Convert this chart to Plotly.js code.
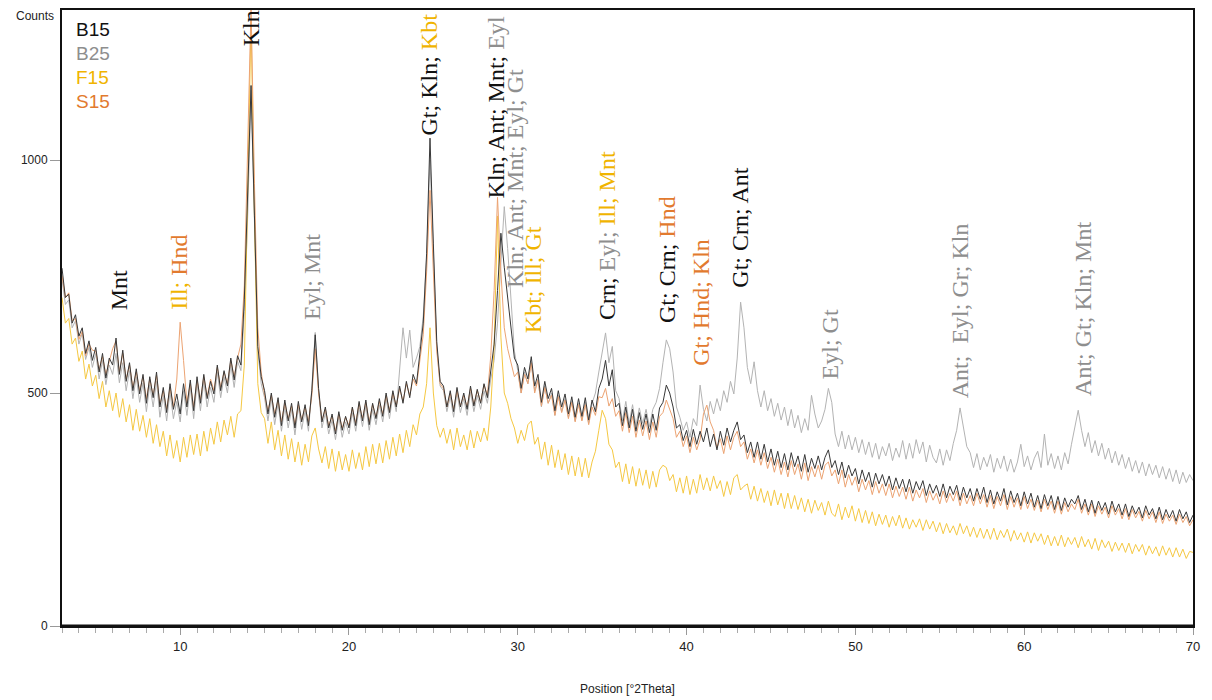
<!DOCTYPE html>
<html>
<head>
<meta charset="utf-8">
<script src="https://cdn.plot.ly/plotly-3.0.1.min.js"></script>
<style>html,body{margin:0;padding:0;background:#fff}#chart{width:1212px;height:700px}</style>
</head>
<body>
<div id="chart"></div>
<script>
// Sampling grid: 2Theta from 3 to 70 in 0.2 degree steps
const twoThetaStart = 3;
const twoThetaStep = 0.2;

// Counts per sample (five values per degree: d.0 d.2 d.4 d.6 d.8)
const B15 = [
768,705,712,650,668, 622,640,585,612,570, 598,545,585,532,575, 560,618,540,592,525,
565,505,552,498,540, 478,535,490,545,470, 512,458,520,465,498, 455,520,470,528,462,
535,478,540,488,525, 498,560,505,548,515, 575,528,580,560,700, 910,1160,880,600,535,
505,455,500,448,490, 430,485,440,478,425, 482,438,475,430,505, 625,510,438,470,425,
455,412,460,420,450, 425,470,430,482,440, 485,432,478,445,488, 450,500,458,505,470,
515,478,525,490,540, 520,590,650,800,1047, 820,610,525,515,470, 505,460,512,470,500,
465,515,472,508,478, 520,490,550,605,720, 843,770,706,650,575, 560,510,555,530,578,
515,540,480,525,488, 510,462,505,470,498, 455,492,448,488,450, 490,442,485,460,510,
530,570,515,550,470, 478,430,470,425,465, 418,458,422,455,415, 455,420,468,480,517,
500,470,425,432,398, 420,385,422,390,418, 395,425,385,412,378, 418,388,425,395,420,
438,400,410,372,395, 362,395,358,390,352, 380,345,375,340,370, 335,372,342,365,332,
368,330,360,338,365, 335,362,378,340,355, 325,352,318,345,322, 338,305,335,310,330,
298,328,305,325,300, 322,292,318,295,315, 288,315,285,310,292, 312,280,305,285,302,
278,305,275,300,282, 302,270,298,275,295, 268,295,272,298,265, 292,262,288,268,295,
260,290,265,285,258, 288,262,285,255,280, 252,282,258,280,250, 278,248,275,255,272,
262,280,250,272,245, 270,242,268,248,265, 240,268,245,262,238, 262,235,258,240,255,
232,258,238,252,230, 255,228,250,232,248, 225,250,230,245,222,
238
];
const B25 = [
745,690,700,640,655, 605,628,572,598,555, 585,530,570,518,560, 540,585,522,565,505,
548,488,535,480,522, 460,518,470,525,448, 495,440,502,445,482, 438,505,452,512,445,
520,462,525,470,512, 480,545,490,535,500, 560,512,568,548,675, 880,1150,860,590,520,
490,440,488,432,478, 418,470,425,465,410, 470,422,462,418,510, 630,505,425,458,412,
442,400,448,405,438, 412,458,418,468,428, 472,420,465,432,475, 438,488,445,495,460,
560,640,575,635,555, 575,600,665,790,1000, 800,600,515,505,460, 492,448,500,458,488,
452,502,460,495,465, 505,478,530,570,650, 780,900,810,700,590, 548,500,545,520,565,
505,530,470,515,478, 500,452,495,460,488, 448,482,440,478,442, 480,435,478,500,545,
590,629,565,600,505, 488,440,482,435,475, 430,468,435,465,428, 465,480,510,565,614,
595,545,470,448,420, 438,405,445,430,517, 465,440,482,455,488, 462,505,480,525,498,
575,695,640,555,520, 567,505,470,505,462, 488,450,478,442,470, 430,465,425,452,415,
445,420,495,455,425, 440,465,510,480,412, 385,418,380,410,378, 405,372,400,368,395,
362,392,358,385,365, 392,355,382,362,398, 358,392,360,400,370, 395,352,388,362,350,
380,345,378,355,392, 420,468,425,385,372, 340,370,335,362,342, 368,330,360,338,365,
332,358,330,352,390, 342,365,335,360,375, 340,412,345,370,338, 365,335,372,348,390,
425,463,420,385,415, 372,398,365,392,358, 382,350,375,345,368, 338,362,332,355,328,
352,322,348,325,345, 318,342,315,338,310, 335,305,330,308,325,
312
];
const F15 = [
705,650,660,605,618, 568,590,530,562,515, 538,488,525,470,505, 462,500,448,488,438,
475,420,465,418,452, 405,445,392,432,385, 418,365,410,360,398, 352,405,362,410,368,
412,365,418,375,425, 390,438,395,442,410, 450,405,455,462,560, 900,1300,880,520,458,
445,392,438,378,420, 365,410,358,402,352, 395,345,390,352,408, 425,380,350,385,338,
380,332,375,335,368, 332,378,338,372,335, 385,342,390,348,392, 350,398,358,405,365,
412,372,420,385,432, 410,455,470,520,640, 500,430,405,425,392, 422,378,425,385,410,
378,420,382,418,395, 425,398,470,600,880, 620,500,478,445,425, 392,420,398,432,440,
390,405,358,395,345, 388,340,378,335,370, 325,365,322,362,320, 360,318,352,375,420,
463,445,390,378,340, 352,310,348,305,342, 300,338,302,335,295, 332,298,335,345,340,
312,325,288,318,285, 322,282,315,285,325, 292,318,290,322,295, 312,278,310,282,318,
325,292,300,305,272, 300,268,295,265,290, 258,292,260,285,252, 285,252,280,250,275,
245,272,242,270,248, 265,238,268,242,235, 262,228,255,232,258, 225,252,222,248,220,
245,215,240,218,238, 212,235,215,238,210, 232,208,228,212,230, 205,228,208,225,202,
222,198,220,200,215, 195,220,198,215,192, 212,190,210,188,208, 186,210,185,205,190,
208,182,205,185,200, 180,202,178,200,182, 198,175,195,172,192, 172,195,170,190,175,
190,168,192,170,186, 165,188,162,185,168, 182,160,180,162,178, 158,178,155,175,160,
175,152,172,155,170, 150,172,152,168,148, 168,148,165,145,160,
158
];
const S15 = [
752,705,715,655,660, 615,632,580,605,592, 590,550,578,540,568, 595,612,545,585,530,
560,512,545,505,535, 488,530,495,538,475, 505,465,512,470,530, 652,570,478,520,470,
528,485,535,492,530, 505,555,512,545,520, 570,535,575,605,730, 1000,1330,950,640,545,
495,462,495,455,485, 438,478,445,472,432, 475,442,470,438,495, 595,500,442,465,430,
450,418,455,425,448, 430,468,435,478,445, 480,438,475,448,482, 455,495,462,500,472,
510,482,520,495,530, 515,570,625,760,935, 760,590,520,510,470, 500,465,505,472,495,
470,510,475,505,480, 518,495,580,720,920, 760,640,595,565,535, 545,500,540,520,565,
500,528,472,512,478, 495,452,492,458,485, 445,480,438,475,440, 475,432,470,452,492,
490,510,472,488,450, 462,418,458,415,450, 405,442,408,440,400, 438,405,450,458,485,
465,445,405,418,385, 408,372,405,378,400, 455,474,438,420,382, 402,370,408,378,405,
418,385,395,358,380, 350,378,345,372,338, 362,330,358,325,352, 320,355,325,348,315,
350,312,342,320,345, 315,345,352,322,335, 305,335,298,325,302, 320,288,315,292,312,
282,310,285,305,280, 305,275,300,278,298, 272,298,268,292,275, 295,265,290,270,285,
262,290,265,285,268, 290,258,285,262,280, 258,285,262,282,255, 280,252,278,258,282,
250,278,255,275,250, 278,252,272,248,270, 245,272,250,268,242, 268,240,265,245,262,
250,272,242,262,238, 262,235,258,240,255, 232,258,238,252,230, 252,228,250,232,246,
225,248,230,245,222, 245,220,240,225,238, 218,240,222,235,215,
228
];

// Series names and their drawing order (first drawn at the back)
const sampleNames = ["B15", "B25", "F15", "S15"];
const drawOrder = ["B25", "F15", "S15", "B15"];

// Peak phase labels: position (2Theta, counts) and text parts with the sample each part belongs to
const peakX = [6.4, 9.95, 14.2, 17.8, 24.76, 28.73, 29.8, 30.87, 35.25, 38.87, 40.88, 43.14, 48.47, 56.18, 63.47];
const peakY = [674, 674, 1240, 652, 1049, 914, 721, 624, 652, 646, 554, 721, 524, 485, 489];
const peakParts = [
  [["Mnt", "B15"]],
  [["Ill; ", "F15"], ["Hnd", "S15"]],
  [["Kln", "B15"]],
  [["Eyl; Mnt", "B25"]],
  [["Gt; Kln; ", "B15"], ["Kbt", "F15"]],
  [["Kln; Ant; Mnt; ", "B15"], ["Eyl", "B25"]],
  [["Kln; Ant; Mnt; Eyl; Gt", "B25"]],
  [["Kbt; Ill; Gt", "F15"]],
  [["Crn; ", "B15"], ["Eyl; ", "B25"], ["Ill; Mnt", "F15"]],
  [["Gt; Crn; ", "B15"], ["Hnd", "S15"]],
  [["Gt; Hnd; Kln", "S15"]],
  [["Gt; Crn; Ant", "B15"]],
  [["Eyl; Gt", "B25"]],
  [["Ant;&nbsp; Eyl; Gr; Kln", "B25"]],
  [["Ant; Gt; Kln; Mnt", "B25"]]
];

const xTickVals = [10, 20, 30, 40, 50, 60, 70];
const yTickVals = [0, 500, 1000];

// ---------- styles ----------
const lineColor = {B15: "#383838", B25: "#b3b3b3", F15: "#f5c842", S15: "#eca372"};
const textColor = {B15: "#111111", B25: "#8e8e8e", F15: "#f0b400", S15: "#e27a2e"};
const lineWidth = {B15: 1, B25: 1, F15: 1, S15: 1};
const seriesData = {B15, B25, F15, S15};

const twoTheta = B15.map((_, i) => +(twoThetaStart + i * twoThetaStep).toFixed(2));

const traces = drawOrder.map(name => ({
  type: "scatter", mode: "lines", name: name,
  x: twoTheta, y: seriesData[name],
  line: {color: lineColor[name], width: lineWidth[name]},
  hoverinfo: "x+y+name"
}));

const annotations = [];
peakX.forEach((px, i) => {
  const txt = peakParts[i].map(p => `<span style="color:${textColor[p[1]]}">${p[0]}</span>`).join("");
  annotations.push({
    x: px, y: peakY[i], xref: "x", yref: "y", text: txt, showarrow: false,
    textangle: -90, xanchor: "center", yanchor: "bottom",
    font: {family: "Liberation Serif, Times New Roman, serif", size: 24, color: "#111"}
  });
});
// text legend at top left
sampleNames.forEach((name, i) => {
  annotations.push({
    xref: "paper", yref: "paper", x: 0.011, y: 0.968 - i * 0.039,
    xanchor: "left", yanchor: "middle", showarrow: false,
    text: name, font: {family: "Liberation Sans, Arial, sans-serif", size: 19, color: textColor[name]}
  });
});
// "Counts" label
annotations.push({
  xref: "paper", yref: "paper", x: 0, y: 1, xanchor: "right", yanchor: "top", xshift: -6, yshift: 3,
  showarrow: false, text: "Counts", font: {family: "Liberation Sans, Arial, sans-serif", size: 12, color: "#222"}
});

const layout = {
  width: 1212, height: 700,
  margin: {l: 62, r: 19, t: 10, b: 74},
  paper_bgcolor: "#fff", plot_bgcolor: "#fff",
  showlegend: false,
  font: {family: "Liberation Sans, Arial, sans-serif", size: 12, color: "#222"},
  xaxis: {
    range: [3, 70], tickvals: xTickVals, ticks: "outside", ticklen: 7, tickcolor: "#999", tickwidth: 1,
    minor: {dtick: 1, tick0: 0, ticks: "outside", ticklen: 5, tickcolor: "#aaa", tickwidth: 1},
    showgrid: false, zeroline: false, showline: true, mirror: true, linecolor: "#111", linewidth: 2,
    tickfont: {family: "Liberation Sans Narrow, Liberation Sans, Arial, sans-serif", size: 13, color: "#222"},
    title: {text: "Position [°2Theta]", standoff: 32, font: {family: "Liberation Sans, Arial, sans-serif", size: 12, color: "#222"}}
  },
  yaxis: {
    range: [0, 1322], tickvals: yTickVals, ticks: "outside", ticklen: 10, tickcolor: "#999", tickwidth: 1,
    showgrid: false, zeroline: false, showline: true, mirror: true, linecolor: "#111", linewidth: 2,
    tickfont: {family: "Liberation Sans, Arial, sans-serif", size: 12, color: "#222"}
  },
  shapes: [{type: "line", xref: "paper", yref: "y", x0: 0, x1: 1, y0: 0, y1: 0, line: {color: "#111", width: 3}}],
  annotations: annotations
};

Plotly.newPlot("chart", traces, layout, {displayModeBar: false, staticPlot: true});
</script>
</body>
</html>
